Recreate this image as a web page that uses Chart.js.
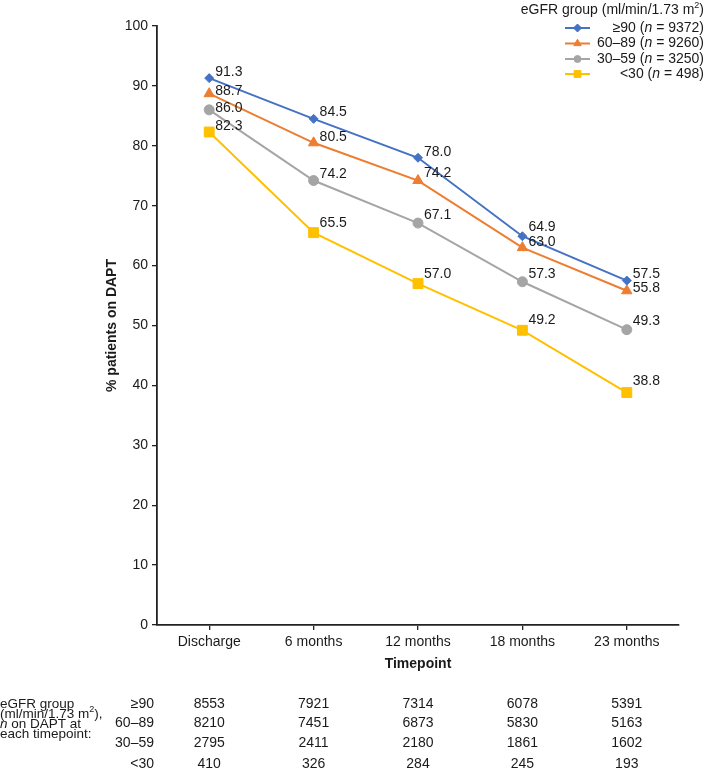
<!DOCTYPE html>
<html><head><meta charset="utf-8">
<script src="https://cdn.jsdelivr.net/npm/chart.js@4/dist/chart.umd.min.js"></script>
<style>html,body{margin:0;padding:0;background:#fff}canvas{display:block}</style>
</head><body>
<canvas id="c" width="709" height="776" style="width:709px;height:776px"></canvas>
<script>
// ---------- DATA ----------
const timepoints = ['Discharge', '6 months', '12 months', '18 months', '23 months'];
const groupLabels = ['≥90', '60–89', '30–59', '<30'];
const groupN = [9372, 9260, 3250, 498];
const pctGe90 = [91.3, 84.5, 78.0, 64.9, 57.5];
const pct60to89 = [88.7, 80.5, 74.2, 63.0, 55.8];
const pct30to59 = [86.0, 74.2, 67.1, 57.3, 49.3];
const pctLt30 = [82.3, 65.5, 57.0, 49.2, 38.8];
const nGe90 = [8553, 7921, 7314, 6078, 5391];
const n60to89 = [8210, 7451, 6873, 5830, 5163];
const n30to59 = [2795, 2411, 2180, 1861, 1602];
const nLt30 = [410, 326, 284, 245, 193];
const yMin = 0, yMax = 100, yStep = 10;

// ---------- STYLE ----------
const FONT = '"Liberation Sans", Arial, Helvetica, sans-serif';
const TXT = '#1a1a1a';
const colors = ['#4472C4', '#ED7D31', '#A5A5A5', '#FFC000'];
const pointStyles = ['rectRot', 'triangle', 'circle', 'rect'];
const pointRadii = [4.5, 6, 5, 7];
const legendRadii = [4, 4.3, 3.5, 4.8];
// vertical nudges of value labels (style only)
const labelDy = [
  [-6, -7, -6, -9, -6],
  [-3, -6, -7, -5, -3],
  [-2, -6, -8, -8, -9],
  [-6, -10, -9, -10, -11]
];
const seriesPct = [pctGe90, pct60to89, pct30to59, pctLt30];
const seriesN = [nGe90, n60to89, n30to59, nLt30];

function drawMarker(ctx, style, x, y, r, color) {
  ctx.save();
  ctx.fillStyle = color; ctx.strokeStyle = color; ctx.lineWidth = 1;
  ctx.beginPath();
  if (style === 'rectRot') {
    ctx.moveTo(x, y - r); ctx.lineTo(x + r, y); ctx.lineTo(x, y + r); ctx.lineTo(x - r, y); ctx.closePath();
  } else if (style === 'triangle') {
    const w = r * Math.sqrt(3);
    ctx.moveTo(x, y - r); ctx.lineTo(x + w / 2, y + r / 2); ctx.lineTo(x - w / 2, y + r / 2); ctx.closePath();
  } else if (style === 'circle') {
    ctx.arc(x, y, r, 0, Math.PI * 2);
  } else {
    const s = r * Math.SQRT1_2;
    ctx.rect(x - s, y - s, 2 * s, 2 * s);
  }
  ctx.fill(); ctx.stroke();
  ctx.restore();
}

// rich text: segments [{t, it, sup}]
function segFont(s, size) {
  return (s.it ? 'italic ' : '') + (s.sup ? Math.round(size * 0.64) + 'px ' : size + 'px ') + FONT;
}
function richWidth(ctx, segs, size) {
  let w = 0;
  segs.forEach(s => { ctx.font = segFont(s, size); w += ctx.measureText(s.t).width; });
  return w;
}
function drawRich(ctx, segs, x, y, align, size) {
  size = size || 14;
  ctx.save();
  ctx.fillStyle = TXT; ctx.textBaseline = 'middle'; ctx.textAlign = 'left';
  let cx = align === 'right' ? x - richWidth(ctx, segs, size) : x;
  segs.forEach(s => {
    ctx.font = segFont(s, size);
    ctx.fillText(s.t, cx, s.sup ? y - size * 0.36 : y);
    cx += ctx.measureText(s.t).width;
  });
  ctx.restore();
}

const extras = {
  id: 'extras',
  afterDatasetsDraw(chart) {
    const ctx = chart.ctx;
    chart.data.datasets.forEach((ds, di) => {
      const meta = chart.getDatasetMeta(di);
      meta.data.forEach((el, i) => {
        ctx.save();
        ctx.font = '14px ' + FONT; ctx.fillStyle = TXT;
        ctx.textAlign = 'left'; ctx.textBaseline = 'middle';
        ctx.fillText(ds.data[i].toFixed(1), el.x + 6, el.y + labelDy[di][i]);
        ctx.restore();
      });
    });
  },
  afterDraw(chart) {
    const ctx = chart.ctx;
    // legend
    const R = 704;
    drawRich(ctx, [{t: 'eGFR group (ml/min/1.73 m'}, {t: '2', sup: true}, {t: ')'}], R, 10.5, 'right');
    const rowY = [28, 43.5, 59, 74];
    groupLabels.forEach((g, i) => {
      const y = rowY[i];
      ctx.save();
      ctx.strokeStyle = colors[i]; ctx.lineWidth = 2;
      ctx.beginPath(); ctx.moveTo(565, y); ctx.lineTo(590, y); ctx.stroke();
      ctx.restore();
      drawMarker(ctx, pointStyles[i], 577.5, y, legendRadii[i], colors[i]);
      drawRich(ctx, [{t: g + ' ('}, {t: 'n', it: true}, {t: ' = ' + groupN[i] + ')'}], R, y, 'right');
    });
    // bottom table
    const xs = chart.scales.x;
    const tY = [704, 723.5, 743.5, 764.5];
    const ls = 13.5;
    drawRich(ctx, [{t: 'eGFR group'}], 0, 704, 'left', ls);
    drawRich(ctx, [{t: '(ml/min/1.73 m'}, {t: '2', sup: true}, {t: '),'}], 0, 714.5, 'left', ls);
    drawRich(ctx, [{t: 'n', it: true}, {t: ' on DAPT at'}], 0, 724.5, 'left', ls);
    drawRich(ctx, [{t: 'each timepoint:'}], 0, 734.5, 'left', ls);
    groupLabels.forEach((g, gi) => {
      drawRich(ctx, [{t: g}], 154, tY[gi], 'right');
      seriesN[gi].forEach((v, i) => {
        ctx.save();
        ctx.font = '14px ' + FONT; ctx.fillStyle = TXT;
        ctx.textAlign = 'center'; ctx.textBaseline = 'middle';
        ctx.fillText(String(v), xs.getPixelForValue(i), tY[gi]);
        ctx.restore();
      });
    });
  }
};

const datasets = seriesPct.map((d, i) => ({
  label: groupLabels[i],
  data: d,
  borderColor: colors[i],
  backgroundColor: colors[i],
  borderWidth: 2,
  pointStyle: pointStyles[i],
  pointRadius: pointRadii[i],
  pointBackgroundColor: colors[i],
  pointBorderColor: colors[i],
  pointBorderWidth: 1,
  tension: 0,
  fill: false
}));

new Chart(document.getElementById('c'), {
  type: 'line',
  data: { labels: timepoints, datasets },
  plugins: [extras],
  options: {
    responsive: false,
    animation: false,
    devicePixelRatio: 1,
    layout: { padding: { left: 0, top: 26, right: 30, bottom: 91 } },
    plugins: { legend: { display: false }, tooltip: { enabled: false } },
    scales: {
      x: {
        type: 'category',
        offset: true,
        grid: { drawOnChartArea: false, drawTicks: true, tickLength: 5, color: '#222', lineWidth: 1.3 },
        border: { display: true, color: '#222', width: 1.8 },
        ticks: { font: { family: FONT, size: 14 }, color: TXT, padding: 4, maxRotation: 0 },
        title: { display: true, text: 'Timepoint', font: { family: FONT, size: 14, weight: 'bold' }, color: TXT, padding: { top: 0, bottom: 12.6 } },
        afterFit(s) { s.height = 60; }
      },
      y: {
        min: yMin, max: yMax,
        grid: { drawOnChartArea: false, drawTicks: true, tickLength: 5, color: '#222', lineWidth: 1.3 },
        border: { display: true, color: '#222', width: 1.8 },
        ticks: { stepSize: yStep, font: { family: FONT, size: 14 }, color: TXT, padding: 4 },
        title: { display: true, text: '% patients on DAPT', font: { family: FONT, size: 14, weight: 'bold' }, color: TXT, padding: { top: 104, bottom: 0 } },
        afterFit(s) { s.width = 157; }
      }
    }
  }
});
</script>
</body></html>
